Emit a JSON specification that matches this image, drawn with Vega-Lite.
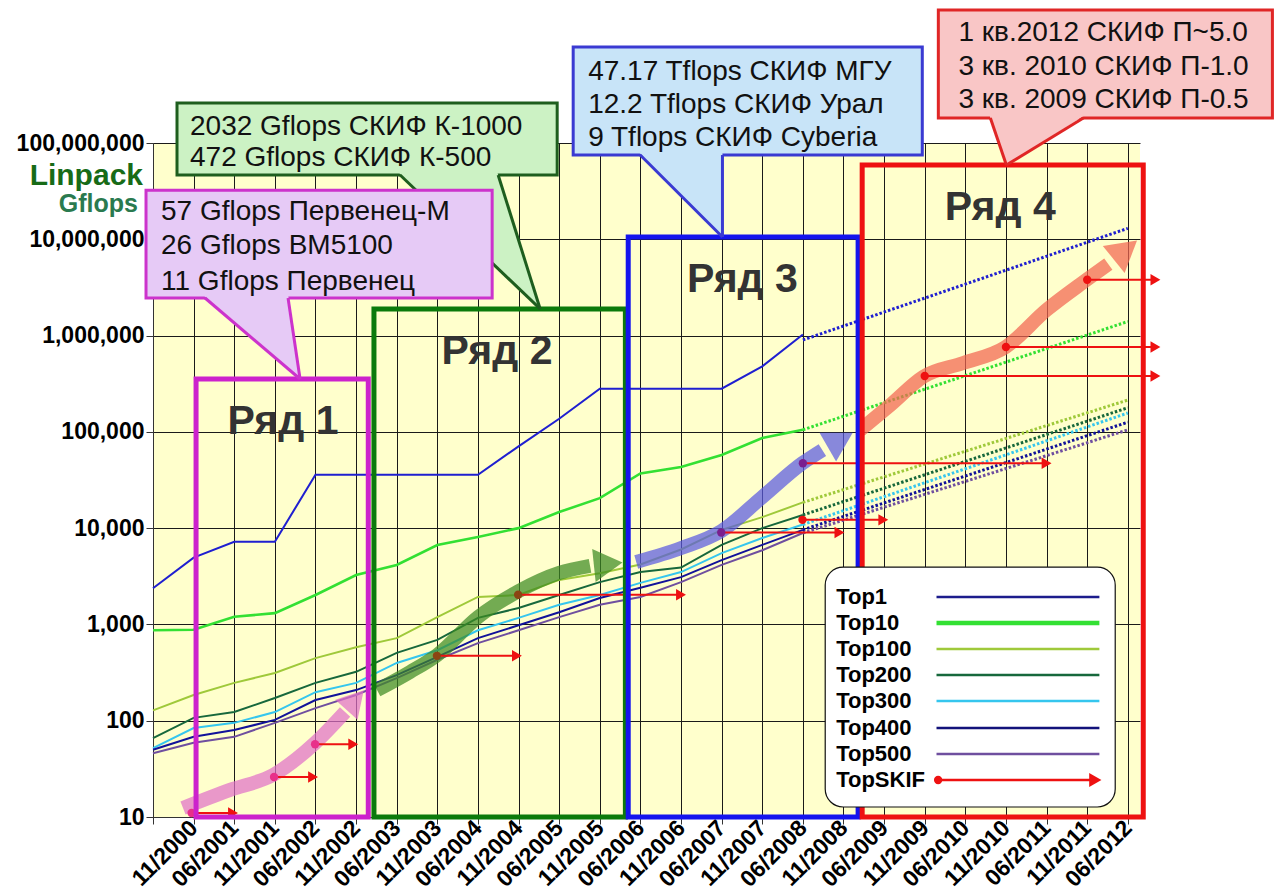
{
"$schema": "https://vega.github.io/schema/vega-lite/v6.json",
"width": 987, "height": 674,
"autosize": {"type": "none"},
"padding": {"left": 153, "top": 143, "right": 140, "bottom": 77},
"background": "white",
"config": {
  "view": {"fill": "#ffffcc", "stroke": null},
  "legend": {"disable": true},
  "axis": {"grid": true, "gridColor": "#1a1a1a", "gridWidth": 1, "domainColor": "#333333", "tickColor": "#333333", "tickSize": 7, "labelFont": "Liberation Sans", "labelFontWeight": "bold", "labelColor": "#000000", "title": null},
  "axisX": {"labelFontSize": 23, "labelAngle": -45, "labelAlign": "right", "labelBaseline": "middle", "labelPadding": 0},
  "axisY": {"labelFontSize": 23, "labelPadding": 2}
},
"datasets": {
"ser": [
{"s":"Top1","i":0,"v":2379},{"s":"Top1","i":1,"v":4938},{"s":"Top1","i":2,"v":7226},{"s":"Top1","i":3,"v":7226},{"s":"Top1","i":4,"v":35860},{"s":"Top1","i":5,"v":35860},{"s":"Top1","i":6,"v":35860},{"s":"Top1","i":7,"v":35860},{"s":"Top1","i":8,"v":35860},{"s":"Top1","i":9,"v":70720},{"s":"Top1","i":10,"v":136800},{"s":"Top1","i":11,"v":280600},{"s":"Top1","i":12,"v":280600},{"s":"Top1","i":13,"v":280600},{"s":"Top1","i":14,"v":280600},{"s":"Top1","i":15,"v":478200},{"s":"Top1","i":16,"v":1026000},
{"s":"Top10","i":0,"v":870},{"s":"Top10","i":1,"v":880},{"s":"Top10","i":2,"v":1200},{"s":"Top10","i":3,"v":1310},{"s":"Top10","i":4,"v":2020},{"s":"Top10","i":5,"v":3260},{"s":"Top10","i":6,"v":4140},{"s":"Top10","i":7,"v":6680},{"s":"Top10","i":8,"v":8090},{"s":"Top10","i":9,"v":10000},{"s":"Top10","i":10,"v":14700},{"s":"Top10","i":11,"v":20500},{"s":"Top10","i":12,"v":37000},{"s":"Top10","i":13,"v":43100},{"s":"Top10","i":14,"v":57500},{"s":"Top10","i":15,"v":86300},{"s":"Top10","i":16,"v":105000},
{"s":"Top100","i":0,"v":128},{"s":"Top100","i":1,"v":185},{"s":"Top100","i":2,"v":247},{"s":"Top100","i":3,"v":313},{"s":"Top100","i":4,"v":447},{"s":"Top100","i":5,"v":580},{"s":"Top100","i":6,"v":720},{"s":"Top100","i":7,"v":1190},{"s":"Top100","i":8,"v":1930},{"s":"Top100","i":9,"v":2020},{"s":"Top100","i":10,"v":2900},{"s":"Top100","i":11,"v":3400},{"s":"Top100","i":12,"v":4200},{"s":"Top100","i":13,"v":6000},{"s":"Top100","i":14,"v":9600},{"s":"Top100","i":15,"v":13000},{"s":"Top100","i":16,"v":18500},
{"s":"Top200","i":0,"v":66},{"s":"Top200","i":1,"v":107},{"s":"Top200","i":2,"v":123},{"s":"Top200","i":3,"v":172},{"s":"Top200","i":4,"v":247},{"s":"Top200","i":5,"v":322},{"s":"Top200","i":6,"v":506},{"s":"Top200","i":7,"v":690},{"s":"Top200","i":8,"v":1170},{"s":"Top200","i":9,"v":1480},{"s":"Top200","i":10,"v":2020},{"s":"Top200","i":11,"v":2750},{"s":"Top200","i":12,"v":3500},{"s":"Top200","i":13,"v":3900},{"s":"Top200","i":14,"v":6700},{"s":"Top200","i":15,"v":10000},{"s":"Top200","i":16,"v":13700},
{"s":"Top300","i":0,"v":52},{"s":"Top300","i":1,"v":84},{"s":"Top300","i":2,"v":95},{"s":"Top300","i":3,"v":123},{"s":"Top300","i":4,"v":198},{"s":"Top300","i":5,"v":247},{"s":"Top300","i":6,"v":398},{"s":"Top300","i":7,"v":540},{"s":"Top300","i":8,"v":870},{"s":"Top300","i":9,"v":1170},{"s":"Top300","i":10,"v":1600},{"s":"Top300","i":11,"v":2020},{"s":"Top300","i":12,"v":2700},{"s":"Top300","i":13,"v":3500},{"s":"Top300","i":14,"v":5500},{"s":"Top300","i":15,"v":7900},{"s":"Top300","i":16,"v":10900},
{"s":"Top400","i":0,"v":50},{"s":"Top400","i":1,"v":68},{"s":"Top400","i":2,"v":80},{"s":"Top400","i":3,"v":102},{"s":"Top400","i":4,"v":164},{"s":"Top400","i":5,"v":208},{"s":"Top400","i":6,"v":297},{"s":"Top400","i":7,"v":460},{"s":"Top400","i":8,"v":720},{"s":"Top400","i":9,"v":980},{"s":"Top400","i":10,"v":1340},{"s":"Top400","i":11,"v":1880},{"s":"Top400","i":12,"v":2400},{"s":"Top400","i":13,"v":3100},{"s":"Top400","i":14,"v":4650},{"s":"Top400","i":15,"v":6700},{"s":"Top400","i":16,"v":9600},
{"s":"Top500","i":0,"v":46},{"s":"Top500","i":1,"v":59},{"s":"Top500","i":2,"v":68},{"s":"Top500","i":3,"v":95},{"s":"Top500","i":4,"v":135},{"s":"Top500","i":5,"v":185},{"s":"Top500","i":6,"v":277},{"s":"Top500","i":7,"v":430},{"s":"Top500","i":8,"v":640},{"s":"Top500","i":9,"v":870},{"s":"Top500","i":10,"v":1190},{"s":"Top500","i":11,"v":1600},{"s":"Top500","i":12,"v":1930},{"s":"Top500","i":13,"v":2750},{"s":"Top500","i":14,"v":4150},{"s":"Top500","i":15,"v":5900},{"s":"Top500","i":16,"v":8900}
],
"trend": [
{"s":"Top1","i":16,"v":900000},{"s":"Top1","i":24,"v":13000000},
{"s":"Top10","i":16,"v":105000},{"s":"Top10","i":24,"v":1400000},
{"s":"Top100","i":16,"v":18500},{"s":"Top100","i":24,"v":214000},
{"s":"Top200","i":16,"v":13700},{"s":"Top200","i":24,"v":178000},
{"s":"Top300","i":16,"v":10900},{"s":"Top300","i":24,"v":157000},
{"s":"Top400","i":16,"v":9600},{"s":"Top400","i":24,"v":126000},
{"s":"Top500","i":16,"v":8900},{"s":"Top500","i":24,"v":105000}
],
"arrows": [
{"g":"pink","i":0.739,"v":12.4},{"g":"pink","i":1.897,"v":19.1},{"g":"pink","i":2.956,"v":27.3},{"g":"pink","i":3.99,"v":58.7},{"g":"pink","i":4.729,"v":123},
{"g":"green","i":5.517,"v":208},{"g":"green","i":6.33,"v":321},{"g":"green","i":6.995,"v":481},{"g":"green","i":8.005,"v":1194},{"g":"green","i":8.99,"v":2200},{"g":"green","i":9.999,"v":3420},{"g":"green","i":10.76,"v":4050},
{"g":"blue","i":11.897,"v":4450},{"g":"blue","i":13.005,"v":6220},{"g":"blue","i":13.99,"v":9300},{"g":"blue","i":15.0,"v":21050},{"g":"blue","i":15.985,"v":47170},{"g":"blue","i":16.48,"v":64700},
{"g":"salmon","i":17.41,"v":104500},{"g":"salmon","i":18.15,"v":190000},{"g":"salmon","i":18.97,"v":375000},{"g":"salmon","i":19.95,"v":519000},{"g":"salmon","i":20.99,"v":760000},{"g":"salmon","i":22.0,"v":1845000},{"g":"salmon","i":22.98,"v":3780000},{"g":"salmon","i":23.52,"v":5530000}
],
"heads": [
{"g":"pink","i":4.975,"v":164},
{"g":"green","i":11.207,"v":4250},
{"g":"blue","i":16.92,"v":82200},
{"g":"salmon","i":23.94,"v":7740000}
],
"skif": [
{"g":"p","i":0.95,"i2":1.97,"v":11},
{"g":"p","i":2.98,"i2":3.94,"v":26},
{"g":"p","i":3.99,"i2":4.93,"v":57},
{"g":"b","i":6.99,"i2":8.96,"v":472},
{"g":"b","i":8.99,"i2":13.0,"v":2032},
{"g":"v","i":13.99,"i2":16.9,"v":9000},
{"g":"r","i":15.99,"i2":17.98,"v":12200},
{"g":"v","i":16.0,"i2":22.0,"v":47170},
{"g":"r","i":19.0,"i2":24.68,"v":380000},
{"g":"r","i":21.0,"i2":24.68,"v":760000},
{"g":"r","i":23.0,"i2":24.68,"v":3800000}
],
"boxes": [
{"g":"r1","i":1.06,"i2":5.3,"v":354000,"v2":10},
{"g":"r2","i":5.44,"i2":11.63,"v":1890000,"v2":10},
{"g":"r3","i":11.7,"i2":17.36,"v":10550000,"v2":10},
{"g":"r4","i":17.46,"i2":24.38,"v":59000000,"v2":10}
],
"boxlab": [
{"t":"Ряд 1","i":3.2,"v":126500},
{"t":"Ряд 2","i":8.47,"v":674000},
{"t":"Ряд 3","i":14.51,"v":3780000},
{"t":"Ряд 4","i":20.86,"v":21100000}
],
"lbox": [{"i":16.55,"i2":23.69,"v":3945,"v2":12.7}],
"legrows": [
{"s":"Top1","v":1928,"i":16.82,"a":19.29,"b":23.3},
{"s":"Top10","v":1035,"i":16.82,"a":19.29,"b":23.3},
{"s":"Top100","v":556,"i":16.82,"a":19.29,"b":23.3},
{"s":"Top200","v":299,"i":16.82,"a":19.29,"b":23.3},
{"s":"Top300","v":160,"i":16.82,"a":19.29,"b":23.3},
{"s":"Top400","v":84,"i":16.82,"a":19.29,"b":23.3},
{"s":"Top500","v":45,"i":16.82,"a":19.29,"b":23.3},
{"s":"TopSKIF","v":24.2,"i":16.82,"a":19.33,"b":23.2}
],
"callout": [
{"c":"g","i":0.591,"i2":9.951,"v":260000000,"v2":46500000},
{"c":"m","i":-0.172,"i2":8.35,"v":32400000,"v2":2455000},
{"c":"b","i":10.345,"i2":18.94,"v":993000000,"v2":75000000},
{"c":"r","i":19.335,"i2":27.56,"v":2400000000,"v2":181500000}
],
"ptr": [
{"c":"g","i":6.05,"i2":8.48,"v":49300000},{"c":"g","i":9.532,"i2":9.532,"v":1890000},
{"c":"m","i":1.25,"i2":3.33,"v":2600000},{"c":"m","i":3.621,"i2":3.621,"v":354000},
{"c":"b","i":11.97,"i2":14.02,"v":79500000},{"c":"b","i":14.02,"i2":14.02,"v":10550000},
{"c":"r","i":20.6,"i2":22.92,"v":192400000},{"c":"r","i":21.01,"i2":21.01,"v":59000000}
],
"ptrside": [
{"c":"g","i":6.084,"v":46500000,"i2":9.532,"v2":1890000},{"c":"g","i":8.498,"v":46500000,"i2":9.532,"v2":1890000},
{"c":"m","i":1.281,"v":2455000,"i2":3.621,"v2":354000},{"c":"m","i":3.325,"v":2455000,"i2":3.621,"v2":354000},
{"c":"b","i":11.995,"v":75000000,"i2":14.02,"v2":10550000},{"c":"b","i":14.02,"v":75000000,"i2":14.02,"v2":10550000},
{"c":"r","i":20.616,"v":181500000,"i2":21.01,"v2":59000000},{"c":"r","i":22.906,"v":181500000,"i2":21.01,"v2":59000000}
],
"ctext": [
{"c":"g","i":0.911,"v":146600000,"t":"2032 Gflops СКИФ К-1000"},
{"c":"g","i":0.911,"v":69800000,"t":"472 Gflops СКИФ К-500"},
{"c":"m","i":0.197,"v":19200000,"t":"57 Gflops Первенец-М"},
{"c":"m","i":0.197,"v":8510000,"t":"26 Gflops ВМ5100"},
{"c":"m","i":0.197,"v":3600000,"t":"11 Gflops Первенец"},
{"c":"b","i":10.714,"v":546000000,"t":"47.17 Tflops СКИФ МГУ"},
{"c":"b","i":10.714,"v":248000000,"t":"12.2 Tflops СКИФ Урал"},
{"c":"b","i":10.714,"v":112700000,"t":"9 Tflops СКИФ Cyberia"},
{"c":"r","i":19.83,"v":1387000000,"t":"1 кв.2012 СКИФ П~5.0"},
{"c":"r","i":19.83,"v":615000000,"t":"3 кв. 2010 СКИФ П-1.0"},
{"c":"r","i":19.83,"v":279000000,"t":"3 кв. 2009 СКИФ П-0.5"}
],
"ytitle": [
{"t":"Linpack","i":-0.246,"v":45400000},
{"t":"Gflops","i":-0.369,"v":23200000}
]
},
"encoding": {
  "x": {"field": "i", "type": "quantitative", "scale": {"domain": [0, 24.3], "nice": false, "zero": false},
        "axis": {"values": [0,1,2,3,4,5,6,7,8,9,10,11,12,13,14,15,16,17,18,19,20,21,22,23,24],
                 "labelExpr": "['','11/2000','06/2001','11/2001','06/2002','11/2002','06/2003','11/2003','06/2004','11/2004','06/2005','11/2005','06/2006','11/2006','06/2007','11/2007','06/2008','11/2008','06/2009','11/2009','06/2010','11/2010','06/2011','11/2011','06/2012'][datum.value]",
                 "labelAngle": -45, "labelAlign": "right", "labelBaseline": "middle", "labelFontSize": 23, "labelPadding": 0,
                 "labelOverlap": false, "labelBound": false, "labelFlush": false, "labelLimit": 300}},
  "y": {"field": "v", "type": "quantitative", "scale": {"type": "log", "domain": [10, 100000000], "nice": false},
        "axis": {"values": [10,100,1000,10000,100000,1000000,10000000,100000000], "format": ",", "labelFontSize": 23, "labelPadding": 2, "labelBound": false, "labelFlush": false, "labelOverlap": false}}
},
"layer": [
  {"data": {"name": "ser"}, "transform": [{"filter": "datum.s != 'Top10'"}],
   "mark": {"type": "line", "strokeWidth": 2, "clip": false},
   "encoding": {"color": {"field": "s", "type": "nominal", "scale": {"domain": ["Top1","Top10","Top100","Top200","Top300","Top400","Top500","TopSKIF"], "range": ["#1f1fd0","#33e033","#9fc93a","#17683c","#35c6ee","#12129a","#6f4f9f","#ee1111"]}, "legend": null}}},
  {"data": {"name": "ser"}, "transform": [{"filter": "datum.s == 'Top10'"}],
   "mark": {"type": "line", "strokeWidth": 2.6, "color": "#33e033", "clip": false}, "encoding": {}},
  {"data": {"name": "trend"},
   "mark": {"type": "line", "strokeWidth": 3, "strokeDash": [2.5, 2], "clip": false},
   "encoding": {"color": {"field": "s", "type": "nominal", "scale": {"domain": ["Top1","Top10","Top100","Top200","Top300","Top400","Top500","TopSKIF"], "range": ["#1f1fd0","#33e033","#9fc93a","#17683c","#35c6ee","#12129a","#6f4f9f","#ee1111"]}, "legend": null}}},
  {"data": {"name": "arrows"},
   "mark": {"type": "line", "strokeWidth": 14, "opacity": 0.72, "interpolate": "monotone", "strokeCap": "butt", "clip": false},
   "encoding": {"color": {"field": "g", "type": "nominal", "scale": {"domain": ["pink","green","blue","salmon"], "range": ["#e070c8","#3d8a22","#5a5ae0","#f36550"]}, "legend": null}}},
  {"data": {"name": "heads"}, "transform": [{"filter": "datum.g == 'pink'"}],
   "mark": {"type": "point", "shape": "triangle-right", "filled": true, "size": 900, "angle": 312, "color": "#e070c8", "opacity": 0.72, "clip": false}, "encoding": {}},
  {"data": {"name": "heads"}, "transform": [{"filter": "datum.g == 'green'"}],
   "mark": {"type": "point", "shape": "triangle-right", "filled": true, "size": 1100, "angle": 354, "color": "#3d8a22", "opacity": 0.72, "clip": false}, "encoding": {}},
  {"data": {"name": "heads"}, "transform": [{"filter": "datum.g == 'blue'"}],
   "mark": {"type": "point", "shape": "triangle-right", "filled": true, "size": 1100, "angle": 330, "color": "#5a5ae0", "opacity": 0.72, "clip": false}, "encoding": {}},
  {"data": {"name": "heads"}, "transform": [{"filter": "datum.g == 'salmon'"}],
   "mark": {"type": "point", "shape": "triangle-right", "filled": true, "size": 1200, "angle": 321, "color": "#f36550", "opacity": 0.72, "clip": false}, "encoding": {}},
  {"data": {"name": "skif"},
   "mark": {"type": "rule", "color": "#ee1111", "strokeWidth": 2, "clip": false},
   "encoding": {"x2": {"field": "i2"}}},
  {"data": {"name": "skif"},
   "mark": {"type": "point", "shape": "triangle-right", "filled": true, "size": 130, "color": "#ee1111", "opacity": 1, "clip": false},
   "encoding": {"x": {"field": "i2", "type": "quantitative"}}},
  {"data": {"name": "skif"},
   "mark": {"type": "point", "shape": "circle", "filled": true, "size": 70, "opacity": 1, "clip": false},
   "encoding": {"color": {"field": "g", "type": "nominal", "scale": {"domain": ["p","b","v","r"], "range": ["#e8308a","#8b4513","#7a1f8f","#ee1111"]}, "legend": null}}},
  {"data": {"name": "boxes"},
   "mark": {"type": "rect", "filled": false, "strokeWidth": 5, "clip": false},
   "encoding": {"x2": {"field": "i2"}, "y2": {"field": "v2"},
                "color": {"field": "g", "type": "nominal", "scale": {"domain": ["r1","r2","r3","r4"], "range": ["#cc22cc","#0b7a0b","#1414ee","#ee1111"]}, "legend": null}}},
  {"data": {"name": "boxlab"},
   "mark": {"type": "text", "font": "Liberation Sans", "fontWeight": "bold", "fontSize": 41, "color": "#333333", "align": "center", "baseline": "middle", "clip": false},
   "encoding": {"text": {"field": "t"}}},
  {"data": {"name": "lbox"},
   "mark": {"type": "rect", "fill": "#ffffff", "stroke": "#111111", "strokeWidth": 1.2, "cornerRadius": 18, "clip": false},
   "encoding": {"x2": {"field": "i2"}, "y2": {"field": "v2"}}},
  {"data": {"name": "legrows"},
   "mark": {"type": "text", "font": "Liberation Sans", "fontWeight": "bold", "fontSize": 22, "color": "#000000", "align": "left", "baseline": "middle", "clip": false},
   "encoding": {"text": {"field": "s"}}},
  {"data": {"name": "legrows"}, "transform": [{"filter": "datum.s != 'Top10'"}],
   "mark": {"type": "rule", "strokeWidth": 2.5, "clip": false},
   "encoding": {"x": {"field": "a", "type": "quantitative"}, "x2": {"field": "b"},
                "color": {"field": "s", "type": "nominal", "scale": {"domain": ["Top1","Top10","Top100","Top200","Top300","Top400","Top500","TopSKIF"], "range": ["#1c1c8c","#33e033","#9fc93a","#17683c","#35c6ee","#12127a","#6f4f9f","#ee1111"]}, "legend": null}}},
  {"data": {"name": "legrows"}, "transform": [{"filter": "datum.s == 'Top10'"}],
   "mark": {"type": "rule", "strokeWidth": 4.5, "color": "#33e033", "clip": false},
   "encoding": {"x": {"field": "a", "type": "quantitative"}, "x2": {"field": "b"}}},
  {"data": {"name": "legrows"}, "transform": [{"filter": "datum.s == 'TopSKIF'"}],
   "mark": {"type": "point", "shape": "circle", "filled": true, "size": 70, "color": "#ee1111", "opacity": 1, "clip": false},
   "encoding": {"x": {"field": "a", "type": "quantitative"}}},
  {"data": {"name": "legrows"}, "transform": [{"filter": "datum.s == 'TopSKIF'"}],
   "mark": {"type": "point", "shape": "triangle-right", "filled": true, "size": 200, "color": "#ee1111", "opacity": 1, "clip": false},
   "encoding": {"x": {"field": "b", "type": "quantitative"}}},

  {"data": {"name": "callout"}, "transform": [{"filter": "datum.c == 'g'"}],
   "mark": {"type": "rect", "strokeWidth": 3, "clip": false},
   "encoding": {"x2": {"field": "i2"}, "y2": {"field": "v2"},
                "fill": {"field": "c", "type": "nominal", "scale": {"domain": ["g","m","b","r"], "range": ["#ccf2c4","#e6caf6","#c8e4f8","#f9c6c6"]}, "legend": null},
                "stroke": {"field": "c", "type": "nominal", "scale": {"domain": ["g","m","b","r"], "range": ["#1e5e1e","#cc33cc","#3a3ad2","#e02626"]}, "legend": null}}},
  {"data": {"name": "ptr"}, "transform": [{"filter": "datum.c == 'g'"}],
   "mark": {"type": "area", "orient": "horizontal", "clip": false},
   "encoding": {"x": {"field": "i", "type": "quantitative", "stack": null}, "x2": {"field": "i2"},
                "fill": {"field": "c", "type": "nominal", "scale": {"domain": ["g","m","b","r"], "range": ["#ccf2c4","#e6caf6","#c8e4f8","#f9c6c6"]}, "legend": null}}},
  {"data": {"name": "ptrside"}, "transform": [{"filter": "datum.c == 'g'"}],
   "mark": {"type": "rule", "strokeWidth": 3, "clip": false},
   "encoding": {"x2": {"field": "i2"}, "y2": {"field": "v2"},
                "stroke": {"field": "c", "type": "nominal", "scale": {"domain": ["g","m","b","r"], "range": ["#1e5e1e","#cc33cc","#3a3ad2","#e02626"]}, "legend": null}}},
  {"data": {"name": "ctext"}, "transform": [{"filter": "datum.c == 'g'"}],
   "mark": {"type": "text", "font": "Liberation Sans", "fontSize": 28, "color": "#111111", "align": "left", "baseline": "middle", "clip": false},
   "encoding": {"text": {"field": "t"}}},

  {"data": {"name": "callout"}, "transform": [{"filter": "datum.c != 'g'"}],
   "mark": {"type": "rect", "strokeWidth": 3, "clip": false},
   "encoding": {"x2": {"field": "i2"}, "y2": {"field": "v2"},
                "fill": {"field": "c", "type": "nominal", "scale": {"domain": ["g","m","b","r"], "range": ["#ccf2c4","#e6caf6","#c8e4f8","#f9c6c6"]}, "legend": null},
                "stroke": {"field": "c", "type": "nominal", "scale": {"domain": ["g","m","b","r"], "range": ["#1e5e1e","#cc33cc","#3a3ad2","#e02626"]}, "legend": null}}},
  {"data": {"name": "ptr"}, "transform": [{"filter": "datum.c != 'g'"}],
   "mark": {"type": "area", "orient": "horizontal", "clip": false},
   "encoding": {"x": {"field": "i", "type": "quantitative", "stack": null}, "x2": {"field": "i2"},
                "fill": {"field": "c", "type": "nominal", "scale": {"domain": ["g","m","b","r"], "range": ["#ccf2c4","#e6caf6","#c8e4f8","#f9c6c6"]}, "legend": null}}},
  {"data": {"name": "ptrside"}, "transform": [{"filter": "datum.c != 'g'"}],
   "mark": {"type": "rule", "strokeWidth": 3, "clip": false},
   "encoding": {"x2": {"field": "i2"}, "y2": {"field": "v2"},
                "stroke": {"field": "c", "type": "nominal", "scale": {"domain": ["g","m","b","r"], "range": ["#1e5e1e","#cc33cc","#3a3ad2","#e02626"]}, "legend": null}}},
  {"data": {"name": "ctext"}, "transform": [{"filter": "datum.c != 'g'"}],
   "mark": {"type": "text", "font": "Liberation Sans", "fontSize": 28, "color": "#111111", "align": "left", "baseline": "middle", "clip": false},
   "encoding": {"text": {"field": "t"}}},

  {"data": {"name": "ytitle"}, "transform": [{"filter": "datum.t == 'Linpack'"}],
   "mark": {"type": "text", "font": "Liberation Sans", "fontWeight": "bold", "fontSize": 30, "color": "#176b17", "align": "right", "baseline": "middle", "clip": false},
   "encoding": {"text": {"field": "t"}}},
  {"data": {"name": "ytitle"}, "transform": [{"filter": "datum.t == 'Gflops'"}],
   "mark": {"type": "text", "font": "Liberation Sans", "fontWeight": "bold", "fontSize": 25, "color": "#2a7a4f", "align": "right", "baseline": "middle", "clip": false},
   "encoding": {"text": {"field": "t"}}}
],
"resolve": {"scale": {"color": "independent", "fill": "independent", "stroke": "independent"}}
}
